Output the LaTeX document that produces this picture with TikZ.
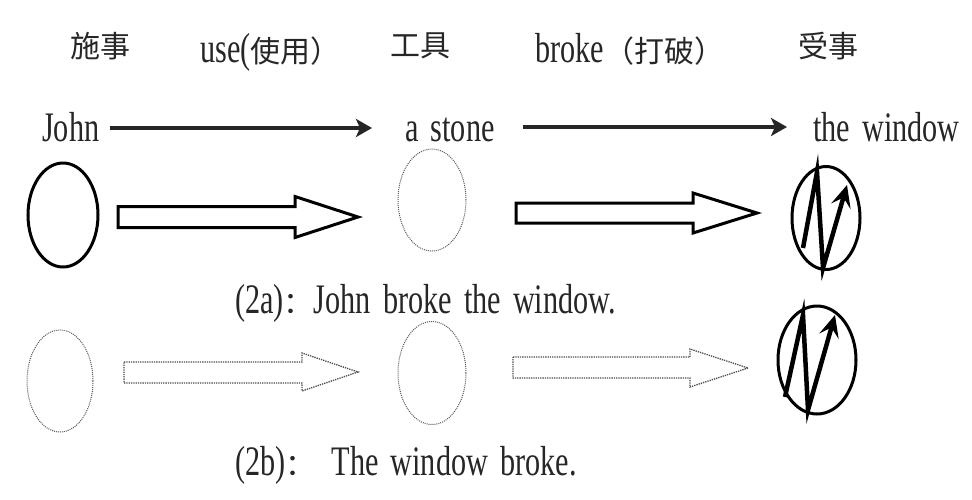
\documentclass[tikz,border=0pt]{standalone}
\usepackage{fontspec}
\setmainfont{Liberation Serif}[FakeStretch=0.72, WordSpace=1.6]
\newfontfamily\cjk{Noto Sans CJK SC}
\usetikzlibrary{arrows.meta,shapes.geometric,calc}
\newcommand\zhtxt[1]{{\cjk\fontsize{30}{34}\selectfont #1}}
\begin{document}
\begin{tikzpicture}[x=1pt,y=-1pt,
  txt/.style={inner sep=0pt, font=\fontsize{42}{46}\selectfont, text=black!85},
  zhlbl/.style={inner sep=0pt, text=black!85},
  thinarrow/.style={line width=4pt, black!85, -{Stealth[length=16pt,width=18pt,inset=4pt]}},
  solidell/.style={ellipse, draw, line width=3pt, inner sep=0pt},
  dotell/.style={ellipse, draw=black!65, densely dotted, line width=1pt, inner sep=0pt},
  blocksolid/.style={draw, line width=3pt, line join=miter, fill=white},
  blockdot/.style={draw=black!70, densely dotted, line width=1.3pt, fill=white},
  zig/.style={line width=4.5pt, line join=miter, -{Stealth[length=22pt,width=20pt,inset=9pt]}}
]
\useasboundingbox (0,0) rectangle (972,499);
% header row
\node[zhlbl] (agent) at (100,46) {\zhtxt{施事}};
\node[txt, anchor=base west] (use) at (200,62) {use(\zhtxt{使用）}};
\node[zhlbl] (instr) at (420,46) {\zhtxt{工具}};
\node[txt, anchor=base west] (broke) at (535,62) {broke\zhtxt{（打破）}};
\node[zhlbl] (patient) at (828,46) {\zhtxt{受事}};
% second row
\node[txt, anchor=base west] (john) at (42,141) {John};
\node[txt, anchor=base west] (stone) at (405,141) {a stone};
\node[txt, anchor=base west] (window) at (813,141) {the window};
\draw[thinarrow] ($(john.base east)+(10,-13)$) -- ($(stone.base west)+(-33,-13)$);
\draw[thinarrow] ($(stone.base west)+(118,-14)$) -- ($(window.base west)+(-26,-14)$);
% third row (2a)
\node[solidell, minimum width=70pt, minimum height=104pt] (e1) at (63,215) {};
\node[dotell, minimum width=68pt, minimum height=102pt] (e2) at (432,200) {};
\node[solidell, minimum width=68pt, minimum height=103pt] (e3) at (826,218) {};
\draw[blocksolid] (118,206.5) -- (295,206.5) -- (295,196.5) -- (358,217) -- (295,237.5) -- (295,227.5) -- (118,227.5) -- cycle;
\draw[blocksolid] (516,203) -- (693,203) -- (693,193) -- (757,213) -- (693,233) -- (693,223) -- (516,223) -- cycle;
\draw[zig] ($(e3)+(-23,30)$) -- ($(e3)+(-9,-46)$) -- ($(e3)+(-3,50)$) -- ($(e3)+(21,-33)$);
\node[txt, anchor=base west] (cap2a) at (235,313) {(2a)\zhtxt{：}John broke the window.};
% fourth row (2b)
\node[dotell, minimum width=66pt, minimum height=102pt] (e4) at (60,381) {};
\node[dotell, minimum width=68pt, minimum height=103pt] (e5) at (432,373) {};
\node[solidell, minimum width=78pt, minimum height=108pt] (e6) at (817,360) {};
\draw[blockdot] (124,362) -- (302,362) -- (302,353) -- (358,372) -- (302,391) -- (302,383) -- (124,383) -- cycle;
\draw[blockdot] (513,357) -- (690,357) -- (690,349) -- (748,368) -- (690,387) -- (690,378) -- (513,378) -- cycle;
\draw[zig] ($(e6)+(-32,37)$) -- ($(e6)+(-14,-45)$) -- ($(e6)+(-9,50)$) -- ($(e6)+(18,-45)$);
\node[txt, anchor=base west] (cap2b) at (235,475) {(2b)\zhtxt{：}\hspace{16pt}The window broke.};
\end{tikzpicture}
\end{document}
